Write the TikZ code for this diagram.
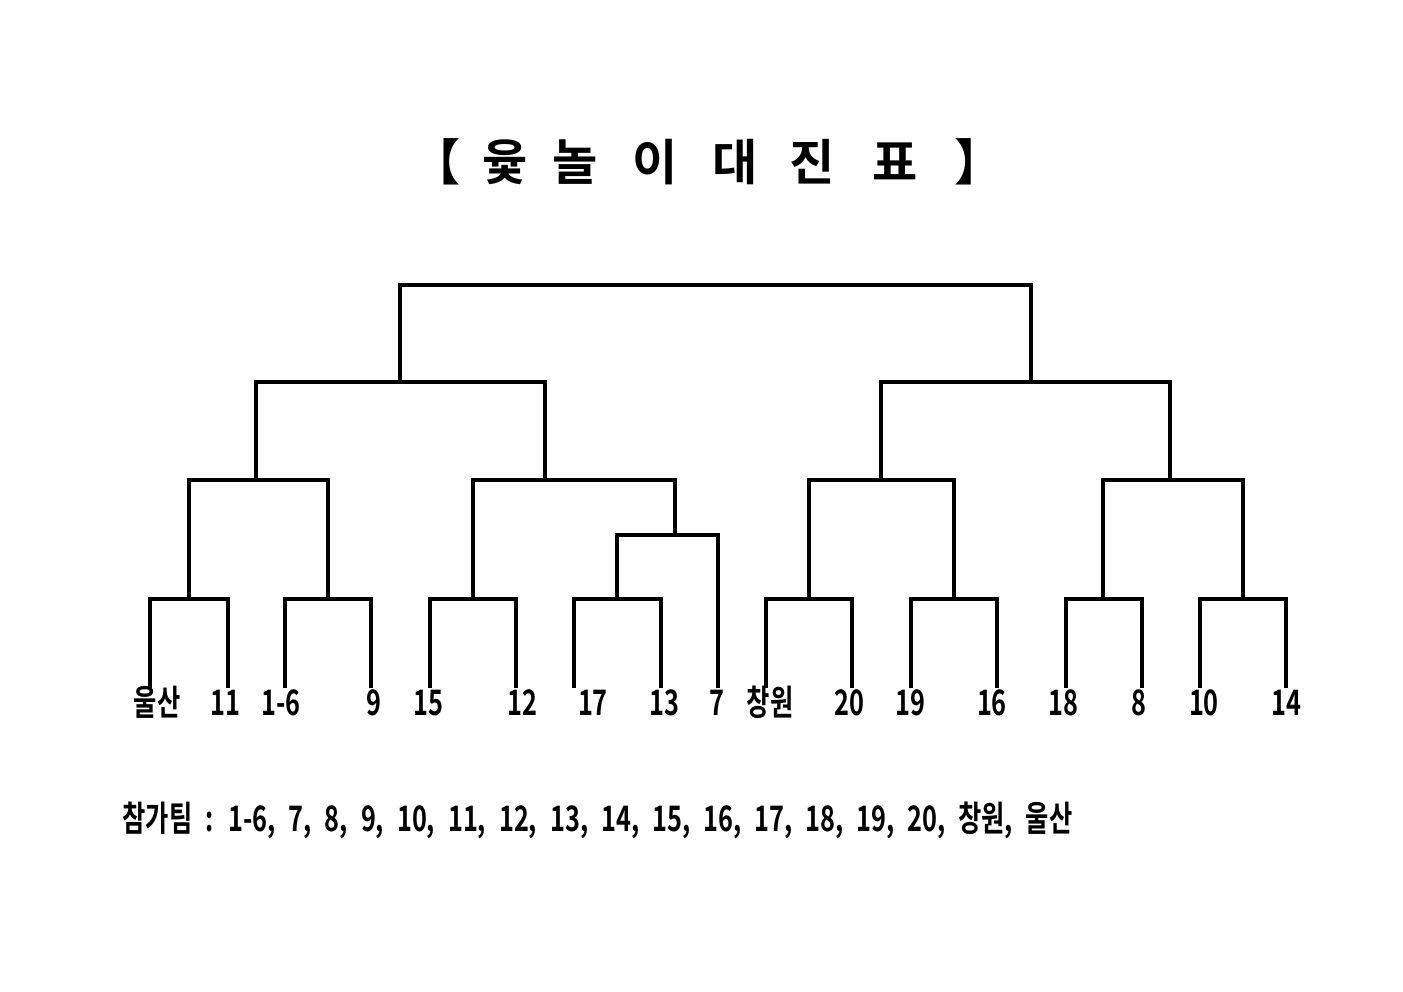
\documentclass[tikz,border=0pt]{standalone}
\usepackage{fontspec}
\newfontfamily\krtitle{Noto Sans CJK KR Bold}
\newfontfamily\krlabel[FakeStretch=0.72]{Noto Sans CJK KR Bold}
\newfontfamily\krlist[FakeStretch=0.72,WordSpace=1.5]{Noto Sans CJK KR Bold}
\usetikzlibrary{positioning}

\begin{document}
\begin{tikzpicture}[x=0.1mm,y=-0.1mm,
  line/.style={line width=0.9pt},
  team/.style={font=\krlabel\fontsize{10}{12}\selectfont,anchor=base,inner sep=0pt}]
\useasboundingbox (0,0) rectangle (1403,992);
% draw title
\foreach \i/\x/\c in {1/436/【,2/505/윷,3/575/놀,4/655/이,5/735/대,6/812/진,7/895/표,8/979/】} {
\node[font=\krtitle\fontsize{14}{16}\selectfont] (t\i) at (\x,162) {\c};
}
% draw leaves and team names
\foreach \i/\x/\lx/\n in {1/150/157/울산,2/228/225/11,3/285/281/1-6,4/371/374/9,5/430/428/15,6/516/522/12,7/574/593/17,8/661/664/13,9/718/717/7,10/766/770/창원,11/852/849/20,12/911/910/19,13/997/992/16,14/1066/1063/18,15/1142/1139/8,16/1200/1204/10,17/1286/1286/14} {
\coordinate (l\i) at (\x,688);
\node[team] (n\i) at (\lx,716) {\n};
}
% first round
\foreach \a/\b/\p/\x in {1/2/1/189,3/4/2/328,5/6/3/473,7/8/4/617,10/11/5/809,12/13/6/954,14/15/7/1103,16/17/8/1243} {
\coordinate (p\p) at (\x,599);
\draw[line] (l\a) |- (p\p) -| (l\b);
}
\coordinate (s) at (675,535);
\draw[line] (p4) |- (s) -| (l9);
% second round
\coordinate (q1) at (256,480);
\coordinate (q2) at (545,480);
\coordinate (q3) at (881,480);
\coordinate (q4) at (1170,480);
\draw[line] (p1) |- (q1) -| (p2);
\draw[line] (p3) |- (q2) -| (s);
\draw[line] (p5) |- (q3) -| (p6);
\draw[line] (p7) |- (q4) -| (p8);
% semi final and final
\coordinate (r1) at (400,382);
\coordinate (r2) at (1031,382);
\draw[line] (q1) |- (r1) -| (q2);
\draw[line] (q3) |- (r2) -| (q4);
\coordinate (f) at (715,285);
\draw[line] (r1) |- (f) -| (r2);
% list of teams
\node[team,font=\krlist\fontsize{10}{12}\selectfont,anchor=base west] (list) at (122,831) {참가팀 : 1-6, 7, 8, 9, 10, 11, 12, 13, 14, 15, 16, 17, 18, 19, 20, 창원, 울산};
\end{tikzpicture}
\end{document}
